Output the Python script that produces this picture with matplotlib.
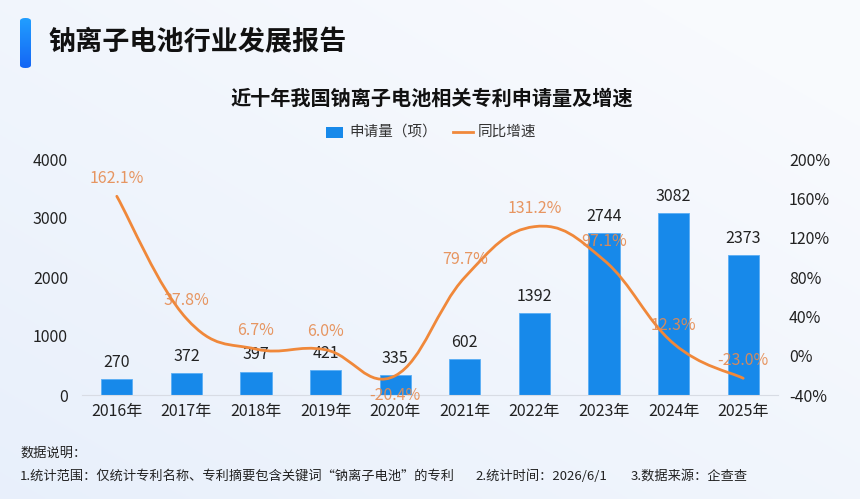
import matplotlib
matplotlib.use("Agg")
import matplotlib.pyplot as plt
import numpy as np
from matplotlib.path import Path
from matplotlib.patches import PathPatch, FancyBboxPatch, Rectangle
from matplotlib.lines import Line2D

plt.rcParams["font.family"] = ["Noto Sans CJK SC", "DejaVu Sans"]

years = ["2016年", "2017年", "2018年", "2019年", "2020年",
         "2021年", "2022年", "2023年", "2024年", "2025年"]
applications = [270, 372, 397, 421, 335, 602, 1392, 2744, 3082, 2373]
growth = [162.1, 37.8, 6.7, 6.0, -20.4, 79.7, 131.2, 97.1, 12.3, -23.0]

BAR_COLOR = "#1789EA"
LINE_COLOR = "#F0883A"
LABEL_ORANGE = "#E68B50"
TEXT = "#222222"

W, H = 860, 499
fig = plt.figure(figsize=(W / 100, H / 100), dpi=100)

# background gradient: bluish bottom-left, near white top-right
bg = fig.add_axes([0, 0, 1, 1])
bg.set_axis_off()
yy, xx = np.mgrid[0:1:200j, 0:1:300j]
t = np.clip(0.55 * xx + 0.55 * yy, 0, 1)
c0 = np.array([0.91, 0.94, 0.985])
c1 = np.array([0.975, 0.982, 0.995])
img = c0[None, None, :] * (1 - t[..., None]) + c1[None, None, :] * t[..., None]
bg.imshow(img, extent=[0, 1, 0, 1], origin="lower", aspect="auto")
bg.set_xlim(0, 1)
bg.set_ylim(0, 1)


def fx(px):
    return px / W


def fy(py):
    return 1 - py / H


# title bar accent
grad = np.linspace(0, 1, 100)[:, None]
top_c = np.array([0.13, 0.62, 1.0])
bot_c = np.array([0.08, 0.40, 0.96])
bar_img = (top_c * (1 - grad) + bot_c * grad).reshape(100, 1, 3)
accent = FancyBboxPatch((fx(20), fy(68)), fx(11), 50 / H,
                        boxstyle="round,pad=0,rounding_size=0.006",
                        transform=bg.transAxes, facecolor="none", edgecolor="none")
bg.add_patch(accent)
im = bg.imshow(bar_img, extent=[fx(20), fx(31), fy(68), fy(18)], origin="upper",
               aspect="auto", zorder=3)
im.set_clip_path(accent)

fig.text(fx(48), fy(42), "钠离子电池行业发展报告", fontsize=19.5, fontweight="bold",
         color="#111111", va="center", ha="left")
fig.text(fx(432), fy(98), "近十年我国钠离子电池相关专利申请量及增速", fontsize=14.5,
         fontweight="bold", color="#111111", va="center", ha="center")

# legend
bg.add_patch(Rectangle((fx(326), fy(138)), fx(17), 11 / H, transform=bg.transAxes,
                       facecolor=BAR_COLOR, edgecolor="none"))
fig.text(fx(349), fy(132), "申请量（项）", fontsize=10.5, color="#333333",
         va="center", ha="left", fontweight="medium")
bg.add_line(Line2D([fx(453), fx(473)], [fy(132), fy(132)], color=LINE_COLOR, lw=2,
                   transform=bg.transAxes))
fig.text(fx(478), fy(132), "同比增速", fontsize=10.5, color="#333333",
         va="center", ha="left", fontweight="medium")

# main axes
ax = fig.add_axes([fx(82), fy(395), (778 - 82) / W, (395 - 159) / H])
ax.set_facecolor("none")
x = np.arange(len(years))
ax.bar(x, applications, width=0.45, color=BAR_COLOR, edgecolor="#5AAEF5",
       linewidth=0.6, zorder=2)
ax.set_ylim(0, 4000)
ax.set_xlim(-0.5, len(years) - 0.5)
ax.set_yticks([0, 1000, 2000, 3000, 4000])
ax.set_xticks(x)
ax.set_xticklabels(years)
for s in ["top", "left", "right"]:
    ax.spines[s].set_visible(False)
ax.spines["bottom"].set_color("#D8DCE4")
ax.tick_params(axis="both", length=0, labelsize=11.5, colors=TEXT)
ax.tick_params(axis="y", pad=10)
ax.tick_params(axis="x", pad=6)

for xi, v in zip(x, applications):
    ax.annotate(str(v), (xi, v), xytext=(0, 6), textcoords="offset points",
                ha="center", va="bottom", fontsize=11.5, color=TEXT, zorder=5,
                fontweight="medium")

ax2 = ax.twinx()
ax2.set_ylim(-40, 200)
ax2.set_yticks([-40, 0, 40, 80, 120, 160, 200])
ax2.set_yticklabels([f"{v}%" for v in [-40, 0, 40, 80, 120, 160, 200]])
for s in ["top", "left", "right", "bottom"]:
    ax2.spines[s].set_visible(False)
ax2.tick_params(axis="y", length=0, labelsize=11.5, colors=TEXT, pad=8)

# smooth line as cubic bezier through the data points
pts = np.column_stack([x, growth]).astype(float)
k = 0.2
verts = [pts[0]]
codes = [Path.MOVETO]
n = len(pts)
for i in range(n - 1):
    p_prev = pts[i - 1] if i > 0 else pts[i]
    p_next2 = pts[i + 2] if i + 2 < n else pts[i + 1]
    c1 = pts[i] + (pts[i + 1] - p_prev) * k
    c2 = pts[i + 1] - (p_next2 - pts[i]) * k
    verts += [c1, c2, pts[i + 1]]
    codes += [Path.CURVE4] * 3
ax2.add_patch(PathPatch(Path(verts, codes), facecolor="none", edgecolor=LINE_COLOR,
                        lw=2, zorder=4, capstyle="round"))

for xi, g in zip(x, growth):
    if xi == 4:
        off, va = -8, "top"
    else:
        off, va = 7, "bottom"
    ax2.annotate(f"{g:.1f}%", (xi, g), xytext=(0, off), textcoords="offset points",
                 ha="center", va=va, fontsize=11.5, color=LABEL_ORANGE, alpha=0.9,
                 zorder=6, fontweight="medium")

# footer notes
fig.text(fx(20), fy(453), "数据说明：", fontsize=9.5, color="#222222", va="center")
fig.text(fx(20), fy(476), "1.统计范围：仅统计专利名称、专利摘要包含关键词“钠离子电池”的专利",
         fontsize=9.5, color="#222222", va="center")
fig.text(fx(475), fy(476), "2.统计时间：2026/6/1", fontsize=9.5, color="#222222",
         va="center")
fig.text(fx(631), fy(476), "3.数据来源：企查查", fontsize=9.5, color="#222222",
         va="center")

fig.savefig("out.png", dpi=100)
